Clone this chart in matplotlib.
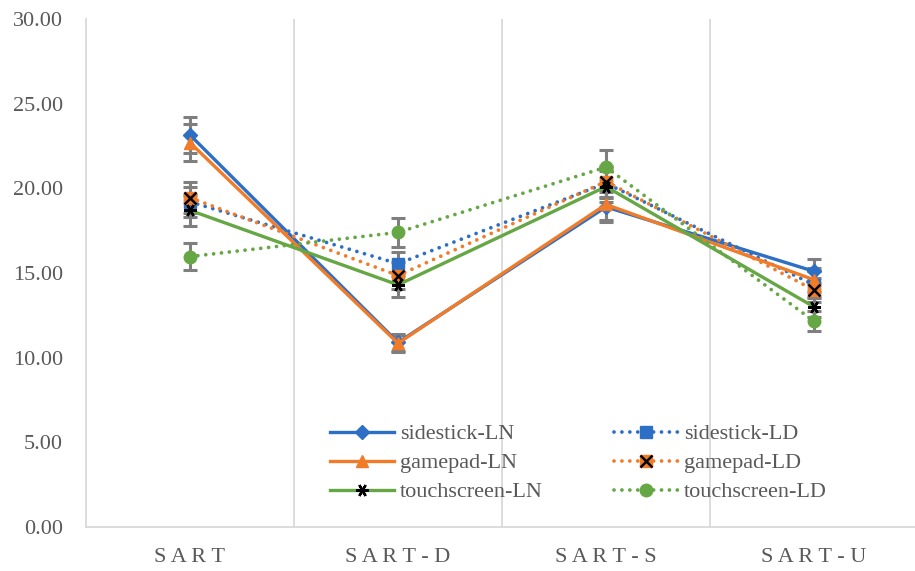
import matplotlib
matplotlib.use("Agg")
import matplotlib.pyplot as plt
from matplotlib.lines import Line2D
import numpy as np

categories = ["S A R T", "S A R T - D", "S A R T - S", "S A R T - U"]

sidestick_LN = [23.15, 10.90, 18.90, 15.10]
sidestick_LN_err = [1.05, 0.50, 0.90, 0.70]
sidestick_LD = [19.20, 15.55, 20.30, 14.30]
sidestick_LD_err = [0.90, 0.70, 0.90, 0.80]
gamepad_LN = [22.70, 10.85, 19.05, 14.60]
gamepad_LN_err = [1.10, 0.50, 0.90, 0.70]
gamepad_LD = [19.45, 14.85, 20.40, 14.00]
gamepad_LD_err = [0.90, 0.80, 0.90, 0.70]
touch_LN = [18.70, 14.30, 20.10, 13.00]
touch_LN_err = [0.90, 0.70, 0.90, 0.60]
touch_LD = [15.97, 17.40, 21.25, 12.15]
touch_LD_err = [0.80, 0.85, 1.00, 0.60]

yticks = [0, 5, 10, 15, 20, 25, 30]

BLUE = "#2E6FC6"
ORANGE = "#F07B28"
GREEN = "#66A745"
GRAY_ERR = "#7F7F7F"
TXT = "#595959"

plt.rcParams['font.family'] = ['Liberation Serif', 'DejaVu Serif']

fig = plt.figure(figsize=(9.15, 5.71), dpi=100)
ax = fig.add_axes([86/915, 1-527/571, 832/915, (527-19)/571])

x = np.arange(len(categories))
dot = (0, (0.01, 2.1))

def errs(vals, err):
    ax.errorbar(x, vals, yerr=err, fmt='none', ecolor=GRAY_ERR, elinewidth=2.2,
                capsize=5, capthick=2.2, zorder=2)

series = [
    (sidestick_LN, sidestick_LN_err), (sidestick_LD, sidestick_LD_err),
    (gamepad_LN, gamepad_LN_err), (gamepad_LD, gamepad_LD_err),
    (touch_LN, touch_LN_err), (touch_LD, touch_LD_err)]
for v, e in series:
    errs(v, e)

lw = 2.4
dlw = 2.7
h_sLN, = ax.plot(x, sidestick_LN, color=BLUE, lw=lw, marker='D', ms=7,
                 mfc=BLUE, mec=BLUE, zorder=3)
h_sLD, = ax.plot(x, sidestick_LD, color=BLUE, lw=dlw, linestyle=dot, marker='s', ms=8,
                 mfc=BLUE, mec=BLUE, zorder=3, dash_capstyle='round')
h_gLN, = ax.plot(x, gamepad_LN, color=ORANGE, lw=lw, marker='^', ms=9,
                 mfc=ORANGE, mec=ORANGE, zorder=4)
h_gLD, = ax.plot(x, gamepad_LD, color=ORANGE, lw=dlw, linestyle=dot, marker='s', ms=8,
                 mfc=ORANGE, mec=ORANGE, zorder=4, dash_capstyle='round')
h_gLDx, = ax.plot(x, gamepad_LD, linestyle='none', marker='x', ms=8, mew=1.8,
                  color='black', zorder=4.1)
h_tLN, = ax.plot(x, touch_LN, color=GREEN, lw=lw, zorder=5)
h_tLNx, = ax.plot(x, touch_LN, linestyle='none', marker=(6, 2, 90), ms=9, mew=1.7,
                  color='black', zorder=5.1)
h_tLD, = ax.plot(x, touch_LD, color=GREEN, lw=dlw, linestyle=dot, marker='o', ms=9,
                 mfc=GREEN, mec=GREEN, zorder=5, dash_capstyle='round')

ax.set_xlim(-0.5, len(categories) - 0.5)
ax.set_ylim(0, 30)
ax.set_yticks(yticks)
ax.set_yticklabels([f"{t:.2f}" for t in yticks])
ax.set_xticks(x)
ax.set_xticklabels(categories)
ax.tick_params(axis='both', length=0, labelsize=16, labelcolor=TXT)
ax.tick_params(axis='y', pad=16.5)
ax.tick_params(axis='x', pad=15)

for b in np.arange(0.5, len(categories), 1.0):
    ax.axvline(b, color="#D9D9D9", lw=1.3, zorder=0)

for s in ['top', 'right']:
    ax.spines[s].set_visible(False)
for s in ['left', 'bottom']:
    ax.spines[s].set_color("#D9D9D9")
    ax.spines[s].set_linewidth(1.3)

l_tLN = Line2D([], [], color=GREEN, lw=lw)
handles = [h_sLN, h_gLN, (l_tLN, h_tLNx), h_sLD, (h_gLD, h_gLDx), h_tLD]
labels = ["sidestick-LN", "gamepad-LN", "touchscreen-LN",
          "sidestick-LD", "gamepad-LD", "touchscreen-LD"]
leg = ax.legend(handles, labels, ncol=2, loc='upper left',
                bbox_to_anchor=((312-86)/832, 1 - (406-19)/508),
                frameon=False, fontsize=16, handlelength=2.9, handletextpad=0.25,
                columnspacing=3.2, labelspacing=0.38, labelcolor=TXT,
                borderpad=0.3)

fig.savefig("out.png", dpi=100)
